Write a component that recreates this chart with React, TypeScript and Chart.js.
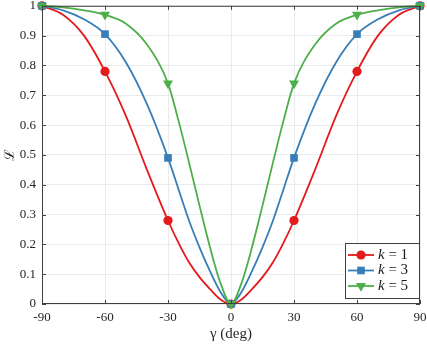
import React, { useEffect, useRef } from 'react';
import { Chart, registerables } from 'chart.js';
Chart.register(...registerables);

const gamma = [-90, -80, -70, -60, -50, -40, -30, -25, -20, -15, -10, -5, 0, 5, 10, 15, 20, 25, 30, 40, 50, 60, 70, 80, 90];
const k1 = [1, 0.97, 0.9, 0.78, 0.63, 0.45, 0.28, 0.205, 0.14, 0.09, 0.05, 0.015, 0, 0.015, 0.05, 0.09, 0.14, 0.205, 0.28, 0.45, 0.63, 0.78, 0.9, 0.97, 1];
const k3 = [1, 0.985, 0.955, 0.905, 0.81, 0.67, 0.49, 0.385, 0.28, 0.19, 0.11, 0.04, 0, 0.04, 0.11, 0.19, 0.28, 0.385, 0.49, 0.67, 0.81, 0.905, 0.955, 0.985, 1];
const k5 = [1, 0.995, 0.985, 0.97, 0.94, 0.87, 0.74, 0.615, 0.475, 0.33, 0.19, 0.07, 0, 0.07, 0.19, 0.33, 0.475, 0.615, 0.74, 0.87, 0.94, 0.97, 0.985, 0.995, 1];
const markerGamma = [-90, -60, -30, 0, 30, 60, 90];
const xTicks = [-90, -60, -30, 0, 30, 60, 90];
const yTicks = [0, 0.1, 0.2, 0.3, 0.4, 0.5, 0.6, 0.7, 0.8, 0.9, 1];
const kValues = ['1', '3', '5'];
const colors = ['#e41a1c', '#377eb8', '#4daf4a'];
const styles = ['circle', 'rect', 'triangle'];
const radii = [4.6, 5.4, 5.8];
const rotations = [0, 0, 180];

const FONT = "'Liberation Serif', 'DejaVu Serif', serif";
const AXIS = '#404040';

export default function App() {
  const ref = useRef<HTMLCanvasElement>(null);
  useEffect(() => {
    document.body.style.margin = '0';
    const series = [k1, k3, k5];
    const datasets = series.map((vals, i) => ({
      label: 'k = ' + kValues[i],
      data: gamma.map((g, j) => ({ x: g, y: vals[j] })),
      borderColor: colors[i],
      backgroundColor: colors[i],
      borderWidth: 1.8,
      cubicInterpolationMode: 'monotone' as const,
      pointStyle: styles[i],
      pointRotation: rotations[i],
      pointRadius: (ctx: any) => (markerGamma.includes(gamma[ctx.dataIndex]) ? radii[i] : 0),
      pointBorderWidth: 0,
      pointBackgroundColor: colors[i],
      clip: false as any,
      order: 3 - i,
    }));

    const framePlugin = {
      id: 'frame',
      afterDraw(chart: any) {
        const { ctx, chartArea: a, scales } = chart;
        ctx.save();
        ctx.strokeStyle = AXIS;
        ctx.lineWidth = 1;
        ctx.strokeRect(a.left + 0.5, a.top + 0.5, a.right - a.left - 1, a.bottom - a.top - 1);
        const tl = 4;
        ctx.beginPath();
        xTicks.forEach((t) => {
          const x = Math.round(scales.x.getPixelForValue(t)) + 0.5;
          ctx.moveTo(x, a.bottom);
          ctx.lineTo(x, a.bottom - tl);
          ctx.moveTo(x, a.top);
          ctx.lineTo(x, a.top + tl);
        });
        yTicks.forEach((t) => {
          const y = Math.round(scales.y.getPixelForValue(t)) + 0.5;
          ctx.moveTo(a.left, y);
          ctx.lineTo(a.left + tl, y);
          ctx.moveTo(a.right, y);
          ctx.lineTo(a.right - tl, y);
        });
        ctx.stroke();

        // legend
        const bx = 345, by = 243, bw = 74, bh = 55;
        ctx.fillStyle = '#ffffff';
        ctx.fillRect(bx, by, bw, bh);
        ctx.strokeStyle = AXIS;
        ctx.strokeRect(bx + 0.5, by + 0.5, bw, bh);
        const rows = [255, 270.5, 286];
        rows.forEach((ry, i) => {
          ctx.strokeStyle = colors[i];
          ctx.lineWidth = 1.8;
          ctx.beginPath();
          ctx.moveTo(348, ry);
          ctx.lineTo(374, ry);
          ctx.stroke();
          ctx.fillStyle = colors[i];
          ctx.beginPath();
          const mx = 361;
          if (styles[i] === 'circle') {
            ctx.arc(mx, ry, radii[i], 0, Math.PI * 2);
          } else if (styles[i] === 'rect') {
            const s = radii[i] * Math.SQRT1_2;
            ctx.rect(mx - s, ry - s, 2 * s, 2 * s);
          } else {
            const r = radii[i];
            ctx.moveTo(mx - r * 0.87, ry - r * 0.5);
            ctx.lineTo(mx + r * 0.87, ry - r * 0.5);
            ctx.lineTo(mx, ry + r);
            ctx.closePath();
          }
          ctx.fill();
          ctx.fillStyle = '#1a1a1a';
          ctx.textBaseline = 'middle';
          ctx.textAlign = 'left';
          ctx.font = 'italic 15px ' + FONT;
          ctx.fillText('k', 378, ry);
          const kw = ctx.measureText('k').width;
          ctx.font = '15px ' + FONT;
          ctx.fillText(' = ' + kValues[i], 378 + kw, ry);
        });
        ctx.restore();
      },
    };

    const chart = new Chart(ref.current!, {
      type: 'line',
      data: { datasets: datasets as any },
      options: {
        animation: false,
        responsive: false,
        maintainAspectRatio: false,
        layout: { padding: { left: 2, right: 7, top: 5, bottom: 2 } },
        plugins: { legend: { display: false }, tooltip: { enabled: false } },
        scales: {
          x: {
            type: 'linear',
            min: -90,
            max: 90,
            afterBuildTicks: (s: any) => {
              s.ticks = xTicks.map((v) => ({ value: v }));
            },
            afterFit: (s: any) => {
              s.height = 39;
              s.paddingLeft = 0;
              s.paddingRight = 0;
            },
            grid: { color: '#ebebeb', drawTicks: false, lineWidth: 1 },
            border: { display: false },
            ticks: { color: '#262626', font: { family: FONT, size: 13 }, padding: 6, maxRotation: 0 },
            title: {
              display: true,
              text: 'γ (deg)',
              color: '#262626',
              font: { family: FONT, size: 15 },
              padding: 0,
            },
          },
          y: {
            type: 'linear',
            min: 0,
            max: 1,
            afterBuildTicks: (s: any) => {
              s.ticks = yTicks.map((v) => ({ value: v }));
            },
            afterFit: (s: any) => {
              s.width = 40;
              s.paddingTop = 0;
              s.paddingBottom = 0;
            },
            grid: { color: '#ebebeb', drawTicks: false, lineWidth: 1 },
            border: { display: false },
            ticks: {
              color: '#262626',
              font: { family: FONT, size: 13 },
              padding: 6,
              callback: (v: any) => (v === 0 ? '0' : v === 1 ? '1' : Number(v).toFixed(1)),
            },
            title: {
              display: true,
              text: 'ℒ',
              color: '#262626',
              font: { family: "'DejaVu Serif', serif", size: 14 },
              padding: 0,
            },
          },
        },
      },
      plugins: [framePlugin],
    });
    return () => chart.destroy();
  }, []);
  return (
    <div style={{ position: 'absolute', left: 0, top: 0, width: 427, height: 345 }}>
      <canvas ref={ref} width={427} height={345} style={{ width: 427, height: 345 }} />
    </div>
  );
}
